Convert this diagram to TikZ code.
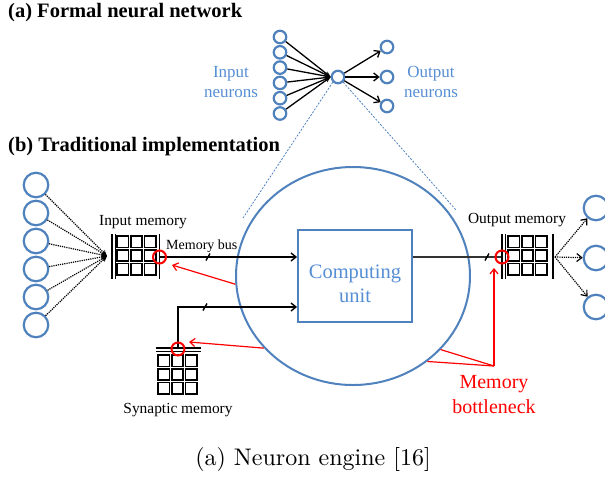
\documentclass[tikz,border=0pt]{standalone}
\usepackage{fontspec}
\usepackage{tikz}
\usetikzlibrary{arrows.meta,shapes.geometric}

\newfontfamily\tnr{Liberation Serif}
\newfontfamily\capfont{lmroman10-regular.otf}

\definecolor{nblue}{RGB}{79,129,189}
\definecolor{tblue}{RGB}{85,142,213}
\definecolor{bred}{RGB}{255,0,0}

\tikzset{
  neuron/.style={circle, draw=nblue, line width=2.2pt, inner sep=0pt, minimum size=12.5pt},
  bigneuron/.style={neuron, minimum size=24.5pt},
  cell/.style={draw, line width=1.8pt},
  membar/.style={line width=1.8pt},
  probe/.style={circle, draw=bred, line width=2pt, inner sep=0pt, minimum size=13pt},
  bus/.style={line width=1.4pt},
  barb/.style={-{Straight Barb[length=5pt,width=8pt]}},
  feed/.style={line width=1.2pt, densely dotted, -{Stealth[length=6pt,width=5pt]}},
  redline/.style={bred, line width=1.2pt},
  zoomline/.style={nblue, line width=0.8pt, dash pattern=on 2pt off 1.5pt},
  title/.style={font=\tnr\bfseries\fontsize{20.5}{24}\selectfont, anchor=west, inner sep=0pt},
  lbl/.style={font=\tnr\fontsize{15.4}{17}\selectfont, inner sep=0pt},
  bluelbl/.style={font=\tnr\fontsize{17}{20}\selectfont, text=tblue, align=center, inner sep=0pt},
}

% 3x3 block of memory cells, top left corner at #1
\newcommand{\memcells}[1]{%
  \begin{scope}[shift={#1}]
    \foreach \i in {0,1,2}
      \foreach \j in {0,1,2}
        \draw[cell] (\i*13.7,\j*13.7) rectangle +(11.5,11.5);
  \end{scope}}

\begin{document}
\begin{tikzpicture}[x=1pt,y=-1pt]
\useasboundingbox (0,0) rectangle (605,480);
\clip (0,0) rectangle (605,480);

% (a) formal network
\node[title] (ta) at (8,13) {(a) Formal neural network};

\foreach \i in {1,...,6}
  \node[neuron] (a\i) at (280,{37+15.3*(\i-1)}) {};
\node[neuron] (hub) at (338,77) {};
\node[neuron] (o1) at (387,47) {};
\node[neuron] (o2) at (387,77) {};
\node[neuron] (o3) at (387,106) {};

\foreach \i in {1,...,6}
  \draw[line width=1.3pt, -{Stealth[length=6pt,width=4.5pt]}] (a\i) -- (hub.west);
\foreach \i in {1,2,3}
  \draw[line width=1.3pt, barb] (hub) -- (o\i);

\node[bluelbl] (inlab) at (231,82) {Input\\neurons};
\node[bluelbl] (outlab) at (431,82) {Output\\neurons};

% (b) traditional implementation
\node[title] (tb) at (8,147) {(b) Traditional implementation};

\node[ellipse, draw=nblue, line width=2pt, inner sep=0pt,
      minimum width=234pt, minimum height=218pt] (core) at (353,276) {};

\coordinate (zl) at (243,218);
\coordinate (zr) at (456,210);
\draw[zoomline] (hub.south west) -- (zl);
\draw[zoomline] (hub.south east) -- (zr);

\node[draw=nblue, line width=1.8pt, fill=white, minimum width=114pt,
      minimum height=92pt] (cu) at (355,276) {};
\node[font=\tnr\fontsize{20.5}{24}\selectfont, text=tblue, align=center] (cutext) at (355,284) {Computing\\unit};

% input side
\foreach \i in {1,...,6}
  \node[bigneuron] (n\i) at (36,{185+28*(\i-1)}) {};
\coordinate (imL) at (107,256);
\foreach \i in {1,...,6}
  \draw[feed] (n\i) -- (imL);

\memcells{(117,236)}
\draw[membar] (112,234) -- (112,279);
\draw[membar] (115.5,234) -- (115.5,279);
\draw[membar] (159.5,234) -- (159.5,279);
\node[lbl] (imlab) at (143,222) {Input memory};

\coordinate (imR) at (159.5,257);
\draw[bus, barb] (imR) -- (imR -| cu.west);
\coordinate (t1) at (208,257);
\draw[bus] (t1) +(-2,3.5) -- +(2,-3.5);
\node[lbl, font=\tnr\fontsize{14}{16}\selectfont, anchor=west] (buslab) at (166,246) {Memory bus};

% synaptic memory
\memcells{(158,355)}
\draw[membar] (156,348) -- (201,348);
\draw[membar] (156,351.5) -- (201,351.5);
\node[lbl] (smlab) at (178,410) {Synaptic memory};

\coordinate (smT) at (178,349);
\coordinate (sbend) at (178,307);
\draw[bus, barb] (smT) -- (sbend) -- (sbend -| cu.west);
\coordinate (t2) at (205,307);
\draw[bus] (t2) +(-2,3.5) -- +(2,-3.5);

% output side
\coordinate (omL) at (502,257);
\draw[bus, black!80] (cu.east |- omL) -- (omL);
\coordinate (t3) at (487,257);
\draw[bus] (t3) +(-2,3.5) -- +(2,-3.5);

\memcells{(508,236)}
\draw[membar] (502,234) -- (502,279);
\draw[membar] (505.5,234) -- (505.5,279);
\draw[membar] (553,234) -- (553,279);
\node[lbl] (omlab) at (517,220) {Output memory};

\coordinate (omR) at (555,257);
\node[bigneuron] (c1) at (596,208) {};
\node[bigneuron] (c2) at (596,258) {};
\node[bigneuron] (c3) at (596,307) {};
\foreach \i in {1,2,3}
  \draw[line width=1.2pt, densely dotted, barb] (omR) -- (c\i);

% bottleneck marks
\node[probe] (p1) at (imR) {};
\node[probe] (p2) at (smT) {};
\node[probe] (p3) at (omL) {};

\coordinate (r1) at (172,265);
\coordinate (r2) at (189,342);
\coordinate (r3) at (494,268);
\coordinate (bn) at (494,366);
\draw[redline, barb] (core.184) -- (r1);
\draw[redline, barb] (core.219) -- (r2);
\draw[redline] (bn) -- (core.320);
\draw[redline] (bn) -- (core.311);
\draw[redline, barb] (bn) -- (r3);
\node[font=\tnr\fontsize{20}{25}\selectfont, text=bred, align=center] (bnlab) at (494,395) {Memory\\bottleneck};

\node[font=\capfont\fontsize{24}{28}\selectfont] (cap) at (313,459) {(a) Neuron engine [16]};

\end{tikzpicture}
\end{document}
